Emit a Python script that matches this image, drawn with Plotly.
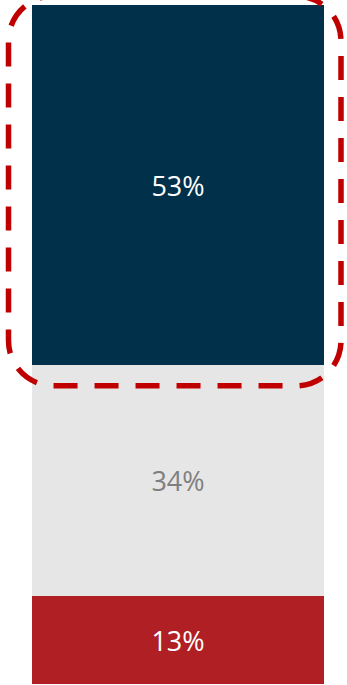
import plotly.graph_objects as go

# Data
categories = ["Total"]
segment_labels = ["Bottom", "Middle", "Top"]
segment_values = [13, 34, 53]
segment_colors = ["#B01F24", "#E6E6E6", "#00304A"]
text_colors = ["#FFFFFF", "#7F7F7F", "#FFFFFF"]

W, H = 347, 685
ML, MR, MT, MB = 32, 23, 5, 1
PW, PH = W - ML - MR, H - MT - MB

fig = go.Figure()
for lab, val, col, tcol in zip(segment_labels, segment_values, segment_colors, text_colors):
    fig.add_trace(go.Bar(
        x=categories, y=[val], name=lab,
        marker=dict(color=col, line=dict(width=0)),
        text=[f"{val}%"], textposition="inside", insidetextanchor="middle",
        textfont=dict(family="Open Sans, sans-serif", size=27, color=tcol),
        width=1, hoverinfo="skip",
    ))

# dashed rounded highlight around top segment (pixel geometry -> paper)
def px(x):
    return (x - ML) / PW

def py(y):
    return (H - MB - y) / PH

top_start = sum(segment_values[:-1])  # 47
seg_bottom_px = MT + (100 - top_start) / 100 * PH
L, R, T, B = 8.5, 341, -4, seg_bottom_px + 21
r = 45
k = 0.5523 * r

def P(x, y):
    return f"{px(x):.5f},{py(y):.5f}"

path = (
    f"M {P(L + r, T)} L {P(R - r, T)} "
    f"C {P(R - r + k, T)} {P(R, T + r - k)} {P(R, T + r)} "
    f"L {P(R, B - r)} "
    f"C {P(R, B - r + k)} {P(R - r + k, B)} {P(R - r, B)} "
    f"L {P(L + r, B)} "
    f"C {P(L + r - k, B)} {P(L, B - r + k)} {P(L, B - r)} "
    f"L {P(L, T + r)} "
    f"C {P(L, T + r - k)} {P(L + r - k, T)} {P(L + r, T)} Z"
)

fig.add_shape(type="path", path=path, xref="paper", yref="paper",
              line=dict(color="#C00000", width=5.5, dash="24px,17px"),
              fillcolor="rgba(0,0,0,0)", layer="above")

fig.update_layout(
    width=W, height=H,
    margin=dict(l=ML, r=MR, t=MT, b=MB, pad=0),
    barmode="stack", bargap=0,
    showlegend=False,
    paper_bgcolor="white", plot_bgcolor="white",
    xaxis=dict(visible=False, range=[-0.5, 0.5], fixedrange=True),
    yaxis=dict(visible=False, range=[0, 100], fixedrange=True),
    uniformtext=dict(minsize=10, mode="show"),
)

fig.write_html("out.html", config={"displayModeBar": False},
               post_script="document.body.style.margin='0';document.body.style.overflow='hidden';")
